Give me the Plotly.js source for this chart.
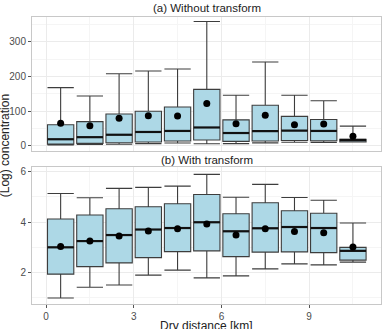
<!DOCTYPE html>
<html>
<head>
<meta charset="utf-8">
<script src="https://cdn.plot.ly/plotly-3.0.1.min.js"></script>
<style>
  html, body { margin: 0; padding: 0; background: #fff; }
  #chart { width: 386px; height: 329px; }
</style>
</head>
<body>
<div id="chart"></div>
<script>
// Dry distance bins (km), bin centres
const distanceKm = [0.5, 1.5, 2.5, 3.5, 4.5, 5.5, 6.5, 7.5, 8.5, 9.5, 10.5];

// (a) raw concentration summaries per bin
const rawLower  = [2.6, 4.1, 4.4, 6.5, 8, 5.9, 6.4, 8.4, 10.3, 9.9, 11];
const rawQ1     = [5, 7, 9, 11, 14, 17, 13, 14, 15.5, 14.5, 11.5];
const rawMedian = [19, 25, 32, 40, 43, 53, 37, 42.5, 44, 43, 17];
const rawQ3     = [61, 70, 92, 100, 112, 163, 75, 117, 85, 76, 19];
const rawUpper  = [168, 144, 208, 216, 222, 359, 146, 242, 146, 130, 57];
const rawMean   = [65, 58, 80, 87, 86, 122, 64, 88, 61, 63, 28];

// (b) log concentration summaries per bin
const logLower  = [0.97, 1.40, 1.49, 1.88, 2.08, 1.77, 1.85, 2.13, 2.33, 2.29, 2.40];
const logQ1     = [1.92, 2.22, 2.37, 2.58, 2.82, 2.85, 2.62, 2.80, 2.81, 2.78, 2.48];
const logMedian = [2.99, 3.24, 3.48, 3.70, 3.76, 3.99, 3.63, 3.75, 3.80, 3.76, 2.85];
const logQ3     = [4.12, 4.28, 4.53, 4.61, 4.73, 5.10, 4.33, 4.77, 4.45, 4.35, 2.99];
const logUpper  = [5.14, 4.97, 5.34, 5.38, 5.43, 5.90, 4.99, 5.50, 4.98, 4.87, 3.96];
const logMean   = [3.02, 3.24, 3.44, 3.64, 3.73, 3.92, 3.48, 3.73, 3.62, 3.57, 3.00];

const xTicks = [0, 3, 6, 9];
const rawTicks = [0, 100, 200, 300];
const logTicks = [2, 4, 6];

const BOX_W = 0.9;
const FILL = '#add8e6';
const EDGE = '#3d3d3d';
const FONT = 'Liberation Sans, Arial, sans-serif';

function boxTrace(lo, q1, med, q3, hi, xa, ya) {
  return {
    type: 'box', x: distanceKm, lowerfence: lo, q1: q1, median: med, q3: q3, upperfence: hi,
    width: BOX_W, whiskerwidth: 1, boxpoints: false,
    fillcolor: FILL, line: { color: EDGE, width: 1.1 },
    xaxis: xa, yaxis: ya, hoverinfo: 'skip', showlegend: false
  };
}

// thick median bars drawn across each box
function medianTrace(med, xa, ya) {
  const xs = [], ys = [];
  distanceKm.forEach((c, i) => {
    xs.push(c - BOX_W / 2, c + BOX_W / 2, null);
    ys.push(med[i], med[i], null);
  });
  return { type: 'scatter', mode: 'lines', x: xs, y: ys, line: { color: '#111', width: 2.2 },
           xaxis: xa, yaxis: ya, hoverinfo: 'skip', showlegend: false };
}

function meanTrace(mean, xa, ya) {
  return { type: 'scatter', mode: 'markers', x: distanceKm, y: mean,
           marker: { color: '#000', size: 7 }, xaxis: xa, yaxis: ya,
           hoverinfo: 'skip', showlegend: false };
}

const data = [
  boxTrace(rawLower, rawQ1, rawMedian, rawQ3, rawUpper, 'x', 'y'),
  medianTrace(rawMedian, 'x', 'y'),
  meanTrace(rawMean, 'x', 'y'),
  boxTrace(logLower, logQ1, logMedian, logQ3, logUpper, 'x2', 'y2'),
  medianTrace(logMedian, 'x2', 'y2'),
  meanTrace(logMean, 'x2', 'y2')
];

const gridMajor = '#ebebeb';
const gridMinor = '#f5f5f5';
const frame = '#c8c8c8';
const tickFont = { family: FONT, size: 10, color: '#4d4d4d' };

function xAxis(anchor, domainShow) {
  return {
    anchor: anchor, domain: [0, 1], range: [-0.48, 11.46],
    tickmode: 'array', tickvals: xTicks, ticktext: xTicks.map(String),
    showticklabels: domainShow, ticks: domainShow ? 'outside' : '', ticklen: 3, tickcolor: '#555',
    tickfont: tickFont, showgrid: true, gridcolor: gridMajor, gridwidth: 1,
    minor: { tickmode: 'array', tickvals: [1.5, 4.5, 7.5, 10.5], showgrid: true, gridcolor: gridMinor, ticks: '' },
    zeroline: false, showline: true, mirror: true, linecolor: frame, linewidth: 1
  };
}

function yAxis(anchor, domain, range, ticks, minorTicks) {
  return {
    anchor: anchor, domain: domain, range: range,
    tickmode: 'array', tickvals: ticks, ticktext: ticks.map(String),
    ticks: 'outside', ticklen: 3, tickcolor: '#555', tickfont: tickFont,
    showgrid: true, gridcolor: gridMajor, gridwidth: 1,
    minor: { tickmode: 'array', tickvals: minorTicks, showgrid: true, gridcolor: gridMinor, ticks: '' },
    zeroline: false, showline: true, mirror: true, linecolor: frame, linewidth: 1
  };
}

const layout = {
  width: 386, height: 329,
  margin: { l: 32, r: 5, t: 17, b: 25 },
  paper_bgcolor: '#fff', plot_bgcolor: '#fff',
  font: { family: FONT, color: '#222' },
  xaxis: xAxis('y', false),
  yaxis: yAxis('x', [0.533, 1], [-15, 372], rawTicks, [50, 150, 250, 350]),
  xaxis2: xAxis('y2', true),
  yaxis2: yAxis('x2', [0, 0.477], [0.73, 6.19], logTicks, [1, 3, 5]),
  annotations: [
    { text: '(a) Without transform', xref: 'paper', yref: 'paper', x: 0.5, y: 1.031,
      xanchor: 'center', yanchor: 'middle', showarrow: false, font: { family: FONT, size: 11.5, color: '#222' } },
    { text: '(b) With transform', xref: 'paper', yref: 'paper', x: 0.5, y: 0.502,
      xanchor: 'center', yanchor: 'middle', showarrow: false, font: { family: FONT, size: 11.5, color: '#222' } },
    { text: '(Log) concentration', xref: 'paper', yref: 'paper', x: -0.077, y: 0.55,
      xanchor: 'center', yanchor: 'middle', textangle: -90, showarrow: false,
      font: { family: FONT, size: 12, color: '#222' } },
    { text: 'Dry distance [km]', xref: 'paper', yref: 'paper', x: 0.5, y: -0.076,
      xanchor: 'center', yanchor: 'middle', showarrow: false,
      font: { family: FONT, size: 12, color: '#222' } }
  ]
};

Plotly.newPlot('chart', data, layout, { staticPlot: true, displayModeBar: false });
</script>
</body>
</html>
